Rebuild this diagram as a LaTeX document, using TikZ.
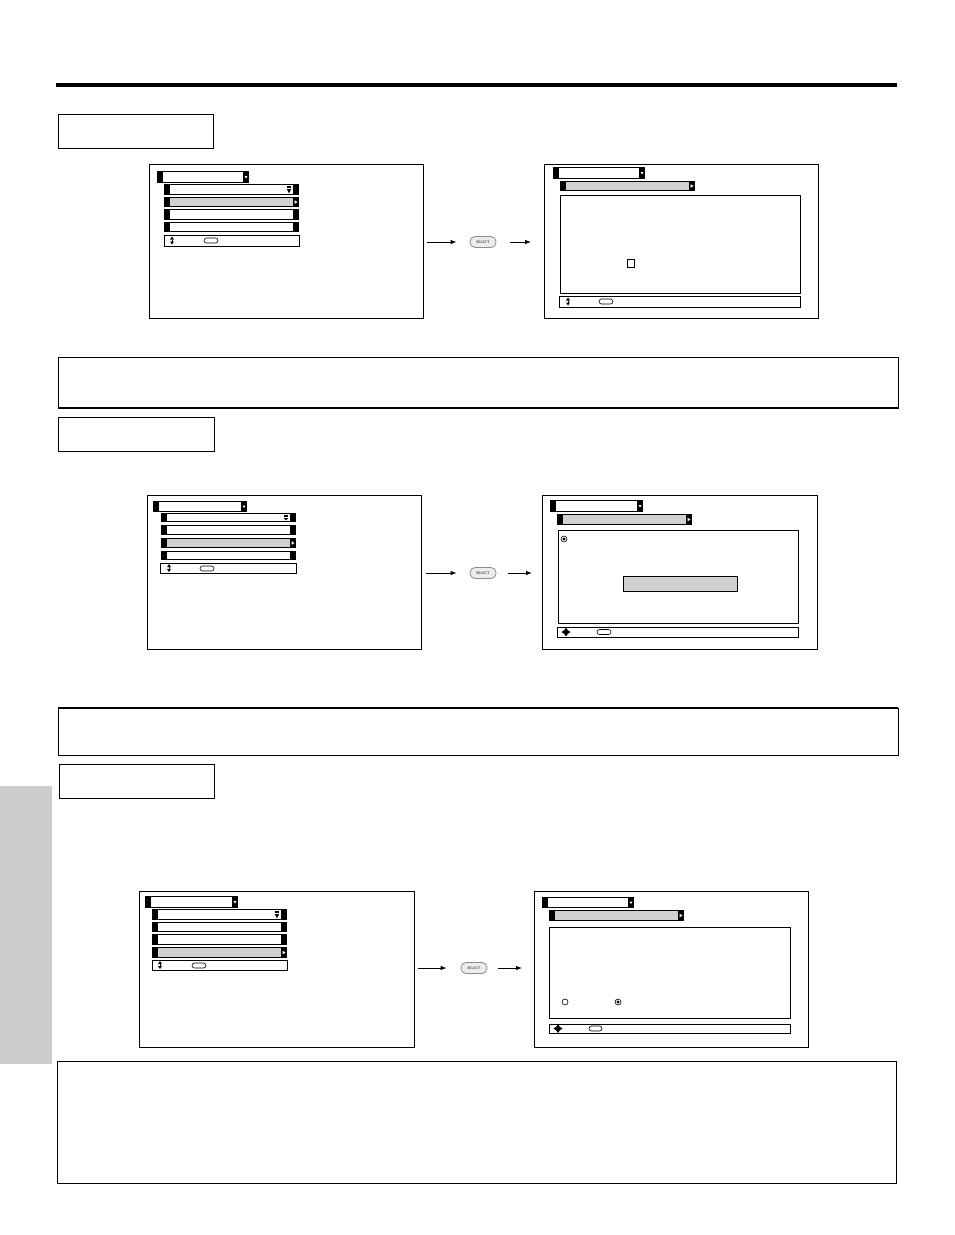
\documentclass[tikz,border=0pt]{standalone}
\usetikzlibrary{arrows.meta}
\definecolor{tabgray}{gray}{0.8}
\definecolor{rowgray}{gray}{0.82}
\newcommand{\myrow}[5]{\fill[black] (#1,#2) rectangle (#3,#4); \fill[#5] ({#1+6},{#2+1}) rectangle ({#3-6},{#4-1});}
\newcommand{\myrarrow}[3]{\fill[white] ({#1-4.5},{(#2+#3)/2-1.8}) -- ++(3,1.8) -- ++(-3,1.8) -- cycle;}
\newcommand{\mydarrow}[3]{\fill[white] ({#1-4.5},{(#2+#3)/2-1}) -- ++(3,0) -- ++(-1.5,2.5) -- cycle;}
\newcommand{\myscroll}[3]{%
 \draw[line width=0.6pt] ({#1-2},{#2+2}) -- ({#1+2},{#2+2});
 \draw[line width=0.6pt] ({#1-2},{#2+3.5}) -- ({#1+2},{#2+3.5});
 \fill ({#1-2.2},{#2+5}) -- ({#1+2.2},{#2+5}) -- ({#1},{#3-1.5}) -- cycle;}
\newcommand{\myupdown}[2]{%
 \fill ({#1-2},{#2-1}) -- ({#1+2},{#2-1}) -- ({#1},{#2-4}) -- cycle;
 \fill ({#1-2},{#2+1}) -- ({#1+2},{#2+1}) -- ({#1},{#2+4}) -- cycle;
 \draw[line width=0.5pt] (#1,{#2-1}) -- (#1,{#2+1});}
\newcommand{\myfour}[2]{%
 \fill ({#1},{#2-4.5}) -- ({#1+1.8},{#2-1.8}) -- ({#1+4.5},{#2}) -- ({#1+1.8},{#2+1.8}) -- ({#1},{#2+4.5}) -- ({#1-1.8},{#2+1.8}) -- ({#1-4.5},{#2}) -- ({#1-1.8},{#2-1.8}) -- cycle;}
\newcommand{\myoval}[4]{\draw[line width=0.6pt, rounded corners=2.5pt] (#1,#2) rectangle (#3,#4);}
\newcommand{\myradio}[2]{\draw[line width=0.6pt] (#1,#2) circle (3pt);}
\newcommand{\myradioon}[2]{\draw[line width=0.6pt] (#1,#2) circle (3pt); \fill (#1,#2) circle (1.6pt);}
\begin{document}
\begin{tikzpicture}[x=1pt,y=-1pt,
  panel/.style={draw, line width=0.9pt, anchor=north west, inner sep=0pt, outer sep=0pt},
  secbox/.style={draw, line width=1pt, anchor=north west, inner sep=0pt, outer sep=0pt},
  navbar/.style={draw, line width=0.8pt},
  cbox/.style={draw, line width=0.9pt},
  selbtn/.style={draw=gray!90, line width=0.8pt, fill=gray!15, rounded corners=5pt, minimum width=26pt, minimum height=11pt, inner sep=0pt, font=\fontsize{3.5}{4}\selectfont\sffamily},
  conn/.style={-{Latex[length=6pt,width=4.5pt]}, line width=0.8pt}]
\useasboundingbox (0,0) rectangle (954,1235);
% top rule
\fill (56,83) rectangle (897,87);
% side tab
\fill[tabgray] (0,786) rectangle (52,1064);
% section boxes
\node[secbox, minimum width=155pt, minimum height=34pt] (sec1) at (58,114) {};
\node[secbox, minimum width=156pt, minimum height=34pt] (sec2) at (58,417) {};
\node[secbox, minimum width=155pt, minimum height=34pt] (sec3) at (59,764) {};
% note boxes
\node[secbox, minimum width=840pt, minimum height=51pt] (note1) at (58,357) {};
\draw[line width=2.5pt] (note1.south west) -- (note1.south east);
\node[secbox, minimum width=840pt, minimum height=47pt] (note2) at (58,708) {};
\draw[line width=2pt] (note2.north west) -- (note2.north east);
\node[secbox, minimum width=839pt, minimum height=122pt] (note3) at (57,1061) {};

% ---------- Panel 1L
\node[panel, minimum width=274pt, minimum height=154pt] (p1L) at (149,164) {};
\myrow{157}{171}{249}{183}{white}\mydarrow{249}{171}{183}
\myrow{164}{184}{299}{195}{white}\myscroll{289}{184}{195}
\myrow{164}{197}{299}{207}{rowgray}\myrarrow{299}{197}{207}
\myrow{164}{209}{299}{220}{white}
\myrow{164}{222}{299}{232}{white}
\draw[navbar] (164,235) rectangle (299,246);
\myupdown{172}{240.5}
\myoval{204}{238}{218}{243}
% ---------- Panel 1R
\node[panel, minimum width=274pt, minimum height=154pt] (p1R) at (544,164) {};
\myrow{553}{167}{645}{179}{white}\mydarrow{645}{167}{179}
\myrow{560}{181}{695}{191}{rowgray}\myrarrow{695}{181}{191}
\draw[cbox] (560,195) rectangle (800,293);
\draw[line width=0.8pt] (627,259) rectangle (634,267);
\draw[navbar] (559,296) rectangle (800,307);
\myupdown{568}{301.5}
\myoval{599}{299}{613}{304}
% select 1
\node[selbtn] (sel1) at (483,242) {SELECT};
\draw[conn, shorten <=4pt, shorten >=13pt] (p1L.east |- sel1) -- (sel1.west);
\draw[conn, shorten <=14pt, shorten >=13pt] (sel1.east) -- (p1R.west |- sel1);

% ---------- Panel 2L
\node[panel, minimum width=274pt, minimum height=154pt] (p2L) at (147,495) {};
\myrow{153}{501}{247}{512}{white}\mydarrow{247}{501}{512}
\myrow{161}{513}{296}{522}{white}\myscroll{286}{513}{522}
\myrow{161}{525}{296}{535}{white}
\myrow{161}{538}{296}{548}{rowgray}\myrarrow{296}{538}{548}
\myrow{161}{551}{296}{560}{white}
\draw[navbar] (160,563) rectangle (296,573);
\myupdown{169}{568}
\myoval{200}{566}{214}{571}
% ---------- Panel 2R
\node[panel, minimum width=275pt, minimum height=154pt] (p2R) at (542,495) {};
\myrow{550}{500}{643}{512}{white}\mydarrow{643}{500}{512}
\myrow{557}{514}{692}{525}{rowgray}\myrarrow{692}{514}{525}
\draw[cbox] (558,530) rectangle (798,623);
\myradioon{564}{539}
\draw[line width=0.8pt, fill=rowgray] (623,576) rectangle (737,591);
\draw[navbar] (557,627) rectangle (798,637);
\myfour{566}{632}
\myoval{597}{629.5}{611}{634.5}
% select 2
\node[selbtn] (sel2) at (483,573) {SELECT};
\draw[conn, shorten <=5pt, shorten >=13pt] (p2L.east |- sel2) -- (sel2.west);
\draw[conn, shorten <=12pt, shorten >=10pt] (sel2.east) -- (p2R.west |- sel2);

% ---------- Panel 3L
\node[panel, minimum width=275pt, minimum height=156pt] (p3L) at (139,891) {};
\myrow{145}{896}{238}{908}{white}\mydarrow{238}{896}{908}
\myrow{152}{909}{287}{920}{white}\myscroll{277}{909}{920}
\myrow{152}{922}{287}{932}{white}
\myrow{152}{934}{287}{945}{white}
\myrow{152}{947}{287}{958}{rowgray}\myrarrow{287}{947}{958}
\draw[navbar] (152,960) rectangle (287,970);
\myupdown{160}{965}
\myoval{192}{963}{206}{968}
% ---------- Panel 3R
\node[panel, minimum width=274pt, minimum height=156pt] (p3R) at (534,891) {};
\myrow{542}{897}{634}{908}{white}\mydarrow{634}{897}{908}
\myrow{549}{910}{684}{921}{rowgray}\myrarrow{684}{910}{921}
\draw[cbox] (549,927) rectangle (790,1018);
\myradio{565}{1002}
\myradioon{618}{1002}
\draw[navbar] (549,1024) rectangle (790,1033);
\myfour{558}{1028.5}
\myoval{589}{1026}{602}{1031}
% select 3
\node[selbtn] (sel3) at (474,968) {SELECT};
\draw[conn, shorten <=4pt, shorten >=14pt] (p3L.east |- sel3) -- (sel3.west);
\draw[conn, shorten <=11pt, shorten >=12pt] (sel3.east) -- (p3R.west |- sel3);
\end{tikzpicture}
\end{document}
